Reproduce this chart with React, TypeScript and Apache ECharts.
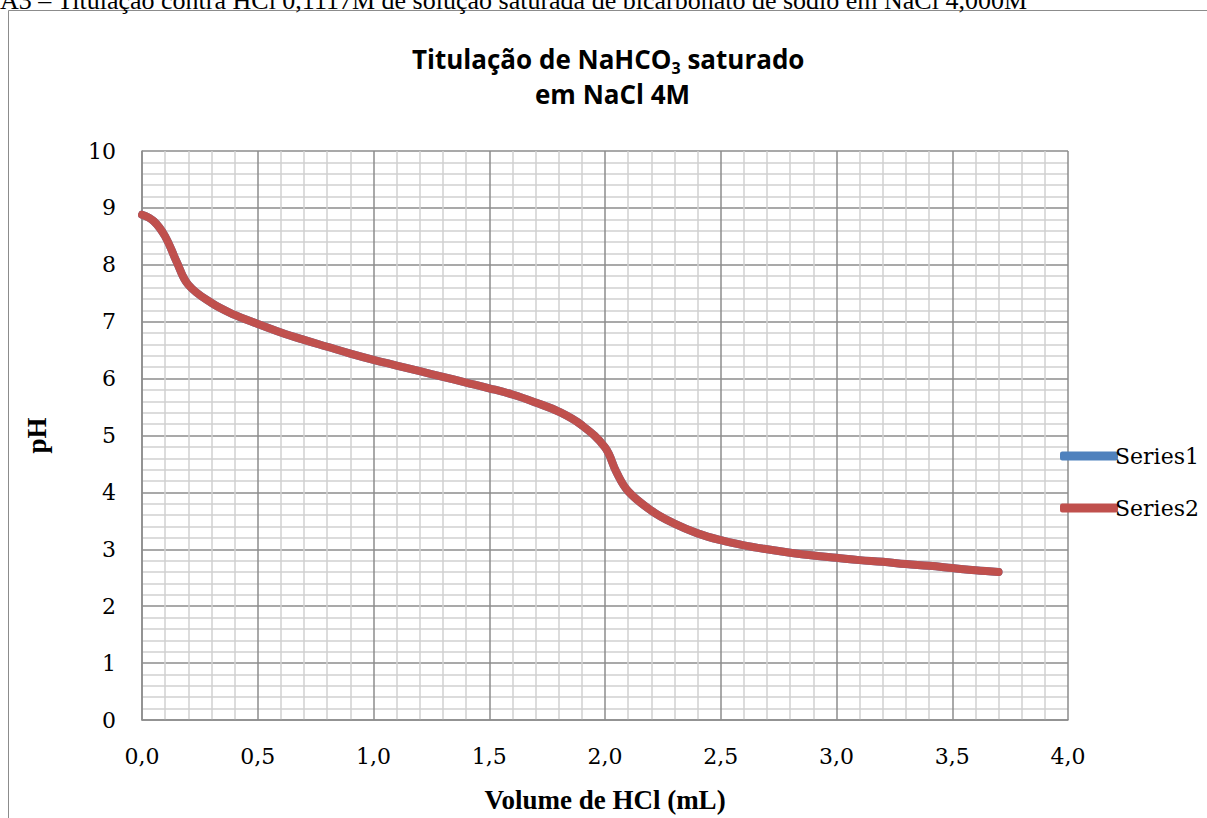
import React, { useEffect, useRef } from "react";
import * as echarts from "echarts";

const volumes = [0, 0.05, 0.1, 0.15, 0.2, 0.3, 0.4, 0.5, 0.6, 0.7, 0.8, 0.9, 1.0, 1.1, 1.2, 1.3, 1.4, 1.5, 1.6, 1.7, 1.8, 1.9, 2.0, 2.05, 2.1, 2.2, 2.3, 2.4, 2.5, 2.6, 2.7, 2.8, 2.9, 3.0, 3.1, 3.2, 3.3, 3.4, 3.5, 3.6, 3.7];
const phValues = [8.88, 8.77, 8.5, 8.05, 7.65, 7.33, 7.12, 6.96, 6.81, 6.68, 6.56, 6.44, 6.33, 6.23, 6.13, 6.03, 5.93, 5.83, 5.72, 5.58, 5.42, 5.18, 4.79, 4.35, 4.02, 3.68, 3.45, 3.28, 3.16, 3.07, 3.0, 2.94, 2.89, 2.85, 2.81, 2.78, 2.74, 2.71, 2.67, 2.63, 2.6];
const seriesNames = ["Series1", "Series2"];
const seriesColors = ["#4F81BD", "#C0504D"];
const headerText = "A3 – Titulação contra HCl 0,1117M de solução saturada de bicarbonato de sódio em NaCl 4,000M";
const xAxisName = "Volume de HCl (mL)";
const yAxisName = "pH";

export default function App() {
  const ref = useRef<HTMLDivElement>(null);
  useEffect(() => {
    if (!ref.current) return;
    const chart = echarts.init(ref.current, null, { renderer: "svg" });
    const data = volumes.map((v, i) => [v, phValues[i]]);
    const serif = "'Liberation Serif', serif";
    const tickFont = "'DejaVu Serif', serif";
    const titleFont = "'Open Sans', sans-serif";
    chart.setOption({
      animation: false,
      backgroundColor: "#ffffff",
      graphic: [
        {
          type: "rect",
          shape: { x: 8.5, y: 10.5, width: 1300, height: 900 },
          style: { fill: "none", stroke: "#8c8c8c", lineWidth: 1 },
          silent: true,
        },
        {
          type: "text",
          x: 0,
          y: 13,
          style: {
            text: headerText,
            font: "26px " + serif,
            fill: "#000",
            verticalAlign: "bottom",
          },
        },
      ],
      title: [
        {
          text: "{a|Titulação de NaHCO}{s|3}{a| saturado}",
          left: 412,
          top: 46,
          padding: 0,
          textStyle: {
            rich: {
              a: { fontFamily: titleFont, fontWeight: "bold", fontSize: 26, color: "#000", lineHeight: 26 },
              s: { fontFamily: titleFont, fontWeight: "bold", fontSize: 16, color: "#000", padding: [18, 0, 0, 0], lineHeight: 8 },
            },
          },
        },
        {
          text: "em NaCl 4M",
          left: 535,
          top: 81,
          padding: 0,
          textStyle: { fontFamily: titleFont, fontWeight: "bold", fontSize: 26, color: "#000", lineHeight: 26 },
        },
      ],
      legend: {
        orient: "vertical",
        left: 1055,
        top: 440,
        itemWidth: 58,
        itemHeight: 9,
        itemGap: 30,
        icon: "roundRect",
        textStyle: { fontFamily: tickFont, fontSize: 22, color: "#000", padding: [0, 0, 0, -8] },
        data: seriesNames,
      },
      grid: { left: 142, right: 139, top: 151, bottom: 98 },
      xAxis: {
        type: "value",
        min: 0,
        max: 4,
        interval: 0.5,
        name: xAxisName,
        nameLocation: "middle",
        nameGap: 66,
        nameTextStyle: { fontFamily: serif, fontWeight: "bold", fontSize: 27, color: "#000" },
        axisLine: { show: true, lineStyle: { color: "#8c8c8c", width: 1.5 } },
        axisTick: { show: false },
        axisLabel: {
          margin: 25,
          fontFamily: tickFont,
          fontSize: 22,
          color: "#000",
          formatter: (v: number) => v.toFixed(1).replace(".", ","),
        },
        splitLine: { show: true, lineStyle: { color: "#8c8c8c", width: 1.5 } },
        minorTick: { show: false, splitNumber: 5 },
        minorSplitLine: { show: true, lineStyle: { color: "#d0d0d0", width: 1.5 } },
      },
      yAxis: {
        type: "value",
        min: 0,
        max: 10,
        interval: 1,
        name: yAxisName,
        nameLocation: "middle",
        nameGap: 92,
        nameRotate: 90,
        nameTextStyle: { fontFamily: serif, fontWeight: "bold", fontSize: 27, color: "#000" },
        axisLine: { show: true, lineStyle: { color: "#8c8c8c", width: 1.5 } },
        axisTick: { show: false },
        axisLabel: { margin: 26, fontFamily: tickFont, fontSize: 22, color: "#000" },
        splitLine: { show: true, lineStyle: { color: "#8c8c8c", width: 1.5 } },
        minorTick: { show: false, splitNumber: 5 },
        minorSplitLine: { show: true, lineStyle: { color: "#d0d0d0", width: 1.5 } },
      },
      series: seriesNames.map((name, i) => ({
        name,
        type: "line",
        data,
        smooth: 0.4,
        showSymbol: false,
        symbol: "none",
        color: seriesColors[i],
        lineStyle: { color: seriesColors[i], width: 8, cap: "round", join: "round" },
        z: 2 + i,
      })),
    });
    return () => chart.dispose();
  }, []);
  return <div ref={ref} style={{ position: "fixed", left: 0, top: 0, width: 1207, height: 818 }} />;
}
